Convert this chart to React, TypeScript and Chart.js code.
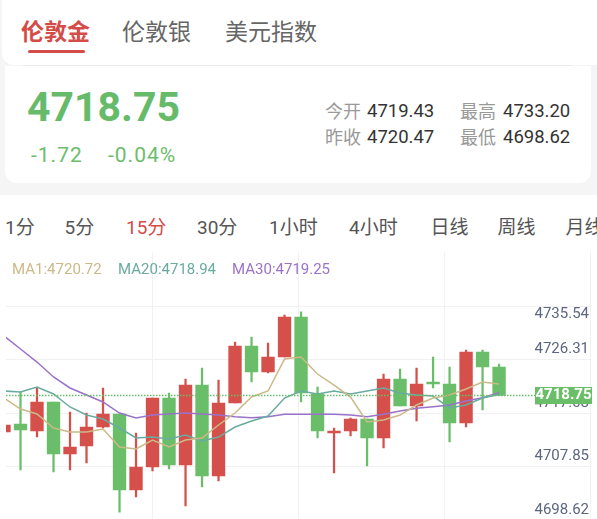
import React, { useEffect, useRef } from "react";
import { Chart, registerables } from "chart.js";

Chart.register(...registerables);

// ---- data (15-minute candles, oldest first) ----
const opens = [4712.45, 4713.83, 4712.62, 4717.63, 4708.65, 4710.03, 4713.31, 4715.55, 4702.43, 4706.40, 4718.32, 4706.75, 4720.56, 4704.85, 4717.45, 4727.30, 4722.81, 4725.40, 4732.31, 4719.01, 4712.27, 4712.62, 4714.69, 4711.41, 4721.60, 4716.94, 4721.08, 4720.74, 4714.00, 4726.26, 4723.67];
const highs = [4714.52, 4719.35, 4720.05, 4717.63, 4715.90, 4715.73, 4720.05, 4715.55, 4712.27, 4718.32, 4719.18, 4721.60, 4723.50, 4721.43, 4727.99, 4728.85, 4727.82, 4732.65, 4733.20, 4720.22, 4713.14, 4714.86, 4714.69, 4722.46, 4723.33, 4723.50, 4725.40, 4723.67, 4726.61, 4726.61, 4724.19];
const lows = [4711.76, 4705.88, 4711.58, 4705.54, 4705.88, 4707.09, 4713.14, 4698.62, 4701.22, 4705.71, 4706.06, 4699.67, 4702.95, 4703.98, 4717.45, 4721.08, 4722.64, 4725.40, 4717.63, 4711.41, 4705.36, 4711.76, 4706.57, 4709.68, 4716.94, 4714.35, 4720.05, 4710.72, 4713.31, 4716.25, 4718.75];
const closes = [4713.66, 4712.79, 4717.63, 4708.65, 4709.86, 4713.31, 4715.55, 4702.43, 4706.40, 4718.32, 4706.75, 4720.56, 4704.85, 4717.45, 4727.30, 4722.81, 4725.40, 4732.31, 4719.18, 4712.62, 4712.62, 4714.69, 4711.41, 4721.60, 4716.94, 4720.74, 4720.74, 4714.00, 4726.26, 4723.67, 4718.75];
const ma1 = [4718.32, 4716.42, 4715.55, 4713.14, 4712.45, 4712.45, 4712.96, 4709.86, 4709.51, 4711.06, 4709.86, 4711.06, 4711.41, 4713.66, 4715.73, 4718.49, 4719.53, 4725.05, 4725.40, 4722.46, 4720.56, 4718.49, 4714.17, 4714.52, 4715.38, 4717.11, 4718.32, 4718.84, 4719.87, 4721.08, 4720.72];
const ma20 = [4719.53, 4719.35, 4720.22, 4719.01, 4716.77, 4715.38, 4714.69, 4713.14, 4711.41, 4711.58, 4711.24, 4711.93, 4710.89, 4711.58, 4713.31, 4714.35, 4715.21, 4718.32, 4719.53, 4719.01, 4719.53, 4719.01, 4719.53, 4720.05, 4719.18, 4718.84, 4718.66, 4716.59, 4717.11, 4718.32, 4718.94];
const ma30 = [4729.03, 4726.78, 4724.53, 4721.95, 4720.05, 4718.84, 4717.63, 4715.73, 4714.86, 4715.38, 4715.55, 4715.73, 4715.55, 4715.38, 4715.09, 4714.92, 4715.09, 4715.50, 4715.50, 4715.50, 4715.50, 4715.38, 4715.09, 4715.50, 4716.07, 4716.54, 4716.82, 4717.11, 4717.80, 4718.37, 4719.25];
const yTickLabels = ["4735.54", "4726.31", "4717.08", "4707.85", "4698.62"];
const lastPrice = 4718.75;

const symbolTabs = ["伦敦金", "伦敦银", "美元指数"];
const periodTabs = ["1分", "5分", "15分", "30分", "1小时", "4小时", "日线", "周线", "月线"];
const statLabels = [["今开", "4719.43", "最高", "4733.20"], ["昨收", "4720.47", "最低", "4698.62"]];
const maLegend = [["MA1", "4720.72"], ["MA20", "4718.94"], ["MA30", "4719.25"]];

// ---- styling ----
const RED = "#d44c47";
const UP = "#d6504b";
const DOWN = "#6abe6a";
const PRICE_GREEN = "#66bb6a";
const C_MA1 = "#cbb987";
const C_MA20 = "#6aab9f";
const C_MA30 = "#9a72c9";
const GRID = "#f1f1f1";
const AXIS_TEXT = "#5b667f";

const Y_MIN = 4697.25;
const Y_MAX = 4743.45;
const X_MIN = 0.121;
const X_MAX = 35.51;

function T({ x, b, size, color, weight = 400, ls, children }: any) {
  return (
    <div
      style={{
        position: "absolute",
        left: x,
        top: b - size * 0.8415,
        fontSize: size,
        lineHeight: `${size}px`,
        color,
        fontWeight: weight,
        whiteSpace: "nowrap",
        letterSpacing: ls,
      }}
    >
      {children}
    </div>
  );
}

const gridPlugin = {
  id: "klineGrid",
  beforeDatasetsDraw(chart: any) {
    const { ctx, chartArea: a } = chart;
    ctx.save();
    ctx.strokeStyle = GRID;
    ctx.lineWidth = 1;
    for (let k = 1; k <= 5; k++) {
      const y = Math.floor(a.top + (k * (a.bottom - a.top)) / 5) + 0.5;
      ctx.beginPath();
      ctx.moveTo(a.left, y);
      ctx.lineTo(a.right, y);
      ctx.stroke();
    }
    for (let k = 1; k <= 4; k++) {
      const x = Math.floor(a.left + (k * (a.right - a.left)) / 4) + 0.5;
      ctx.beginPath();
      ctx.moveTo(x, a.top);
      ctx.lineTo(x, a.bottom);
      ctx.stroke();
    }
    ctx.restore();
  },
};

const overlayPlugin = {
  id: "klineOverlay",
  afterDatasetsDraw(chart: any) {
    const { ctx, chartArea: a } = chart;
    const ys = chart.scales.y;
    ctx.save();
    // axis labels
    ctx.font = "15px Roboto";
    ctx.fillStyle = AXIS_TEXT;
    ctx.textAlign = "right";
    ctx.textBaseline = "middle";
    yTickLabels.forEach((t) => {
      let y = ys.getPixelForValue(parseFloat(t)) - 2;
      y = Math.max(y, a.top + 62);
      ctx.fillText(t, a.right - 1, y);
    });
    // last price dotted line
    const py = ys.getPixelForValue(lastPrice);
    ctx.strokeStyle = DOWN;
    ctx.lineWidth = 1.5;
    ctx.setLineDash([1.5, 1.5]);
    ctx.beginPath();
    ctx.moveTo(a.left, py);
    ctx.lineTo(535, py);
    ctx.stroke();
    ctx.setLineDash([]);
    // tag
    ctx.fillStyle = DOWN;
    ctx.fillRect(535, py - 8.5, 57, 17);
    ctx.fillStyle = "#ffffff";
    ctx.font = "bold 15px Roboto";
    ctx.textAlign = "center";
    ctx.fillText(lastPrice.toFixed(2), 563.5, py);
    ctx.restore();
  },
};

export default function App() {
  const ref = useRef<HTMLCanvasElement>(null);

  useEffect(() => {
    const canvas = ref.current!;
    const colors = opens.map((o, i) => (closes[i] >= o ? UP : DOWN));
    const chart = new Chart(canvas, {
      type: "bar",
      data: {
        datasets: [
          {
            type: "line",
            label: "MA1",
            data: ma1.map((v, i) => ({ x: i, y: v })),
            borderColor: C_MA1,
            borderWidth: 1.5,
            pointRadius: 0,
            tension: 0,
            order: 0,
            clip: 0,
          } as any,
          {
            type: "line",
            label: "MA20",
            data: ma20.map((v, i) => ({ x: i, y: v })),
            borderColor: C_MA20,
            borderWidth: 1.5,
            pointRadius: 0,
            tension: 0,
            order: 0,
            clip: 0,
          },
          {
            type: "line",
            label: "MA30",
            data: ma30.map((v, i) => ({ x: i, y: v })),
            borderColor: C_MA30,
            borderWidth: 1.5,
            pointRadius: 0,
            tension: 0,
            order: 0,
            clip: 0,
          },
          {
            type: "bar",
            label: "body",
            data: opens.map((o, i) => ({ x: i, y: [o, closes[i]] })),
            backgroundColor: colors,
            borderWidth: 0,
            barThickness: 12.7,
            grouped: false,
            order: 2,
            clip: 0,
          },
          {
            type: "bar",
            label: "wick",
            data: lows.map((l, i) => ({ x: i, y: [l, highs[i]] })),
            backgroundColor: colors,
            borderWidth: 0,
            barThickness: 1.6,
            grouped: false,
            order: 3,
            clip: 0,
          },
        ] as any,
      },
      options: {
        responsive: false,
        maintainAspectRatio: false,
        animation: false,
        events: [],
        layout: { padding: { left: 6, right: 7, top: 12.5, bottom: 10 } },
        plugins: { legend: { display: false }, tooltip: { enabled: false } },
        scales: {
          x: { type: "linear", display: false, min: X_MIN, max: X_MAX, offset: false },
          y: { type: "linear", display: false, min: Y_MIN, max: Y_MAX },
        },
      } as any,
      plugins: [gridPlugin, overlayPlugin],
    });
    return () => chart.destroy();
  }, []);

  const symX = [21, 122, 225];
  const perX = [5, 64.5, 126, 197, 269, 349, 430.5, 497.5, 565.5];
  const maX = [12, 118, 232];
  const maC = [C_MA1, C_MA20, C_MA30];

  return (
    <div
      style={{
        position: "fixed",
        left: 0,
        top: 0,
        width: 597,
        height: 519,
        overflow: "hidden",
        background: "#f5f5f5",
        fontFamily: 'Roboto, "Noto Sans CJK SC", sans-serif',
      }}
    >
      {/* top card with symbol tabs */}
      <div style={{ position: "absolute", left: 2, top: -12, width: 610, height: 77, borderRadius: 12, background: "#fff" }} />
      {symbolTabs.map((s, i) => (
        <T key={s} x={symX[i]} b={40.5} size={23} color={i === 0 ? RED : "#666"} weight={i === 0 ? 700 : 400}>
          {s}
        </T>
      ))}
      <div style={{ position: "absolute", left: 28, top: 50, width: 57, height: 3, borderRadius: 2, background: RED }} />

      {/* quote card */}
      <div style={{ position: "absolute", left: 5, top: 66, width: 586, height: 117, borderRadius: "0 0 12px 12px", background: "#fff" }} />
      <div style={{ position: "absolute", left: 23, top: 65, width: 549, height: 1, background: "#ebebeb" }} />
      <T x={27} b={122} size={41} color={PRICE_GREEN} weight={700}>
        4718.75
      </T>
      <T x={31} b={163} size={21} color="#6cbd6c" ls="1px">
        -1.72
      </T>
      <T x={108} b={163} size={21} color="#6cbd6c" ls="1px">
        -0.04%
      </T>
      {statLabels.map((row, r) => (
        <React.Fragment key={r}>
          <T x={325} b={118 + r * 26} size={18} color="#999">
            {row[0]}
          </T>
          <T x={367} b={118 + r * 26} size={18.5} color="#333">
            {row[1]}
          </T>
          <T x={460} b={118 + r * 26} size={18} color="#999">
            {row[2]}
          </T>
          <T x={503} b={118 + r * 26} size={18.5} color="#333">
            {row[3]}
          </T>
        </React.Fragment>
      ))}

      {/* chart panel */}
      <div style={{ position: "absolute", left: 0, top: 195, width: 597, height: 330, background: "#fff" }} />
      {periodTabs.map((p, i) => (
        <T key={p} x={perX[i]} b={234} size={19} color={i === 2 ? RED : "#555"}>
          {p}
        </T>
      ))}
      <canvas
        ref={ref}
        width={597}
        height={290}
        style={{ position: "absolute", left: 0, top: 240, width: 597, height: 290 }}
      />
      {maLegend.map((m, i) => (
        <T key={m[0]} x={maX[i]} b={275} size={15} color={maC[i]}>
          {m[0]}:{m[1]}
        </T>
      ))}
    </div>
  );
}
